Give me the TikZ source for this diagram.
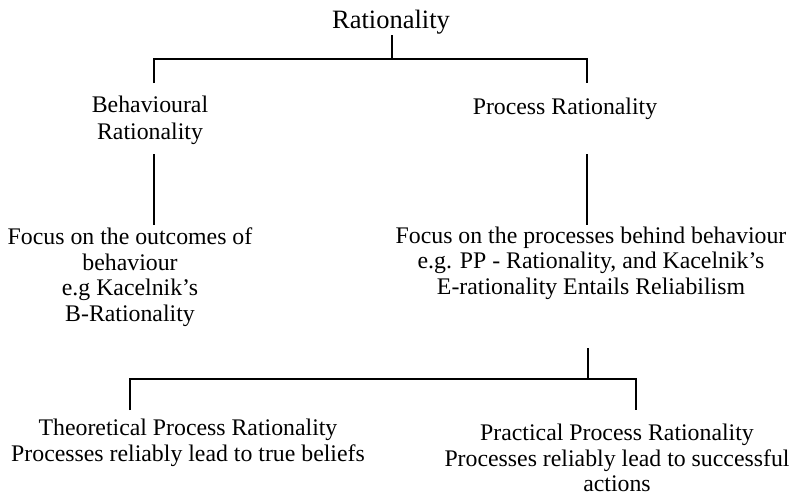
\documentclass[tikz,border=0pt]{standalone}
\usepackage{fontspec}
\setmainfont{Liberation Serif}
\begin{document}
\begin{tikzpicture}[x=1pt,y=-1pt,
  txt/.style={align=center, font=\fontsize{23.8}{25.5}\selectfont, inner sep=0pt},
  big/.style={txt, font=\fontsize{26.5}{28}\selectfont},
  link/.style={line width=1.5pt}]
\useasboundingbox (0,0) rectangle (795,499);
% nodes
\node[big] (root) at (391,22) {Rationality};
\node[txt, font=\fontsize{23.8}{27}\selectfont] (beh) at (150,120) {Behavioural\\Rationality};
\node[txt] (proc) at (565,109) {Process Rationality};
\node[txt] (out) at (130,277) {Focus on the outcomes of\\behaviour\\e.g Kacelnik’s\\B-Rationality};
\node[txt] (pro2) at (591,263) {Focus on the processes behind behaviour\\e.g. PP - Rationality, and Kacelnik’s\\E-rationality Entails Reliabilism};
\node[txt] (theo) at (188,443) {Theoretical Process Rationality\\Processes reliably lead to true beliefs};
\node[txt] (prac) at (617,458) {Practical Process Rationality\\Processes reliably lead to successful\\actions};
% connector points
\coordinate (r1) at (392,35);
\coordinate (r2) at (392,59);
\coordinate (bl1) at (154,83);
\coordinate (br1) at (587,83);
\coordinate (bl2) at (154,154);
\coordinate (bl3) at (154,225);
\coordinate (br2) at (587,154);
\coordinate (br3) at (587,225);
\coordinate (p1) at (588,348);
\coordinate (p2) at (588,379);
\coordinate (tl1) at (130,410);
\coordinate (tr1) at (636,410);
% connectors
\draw[link] (r1) -- (r2);
\draw[link] (bl1) |- (r2) -| (br1);
\draw[link] (bl2) -- (bl3);
\draw[link] (br2) -- (br3);
\draw[link] (p1) -- (p2);
\draw[link] (tl1) |- (p2) -| (tr1);
\end{tikzpicture}
\end{document}
